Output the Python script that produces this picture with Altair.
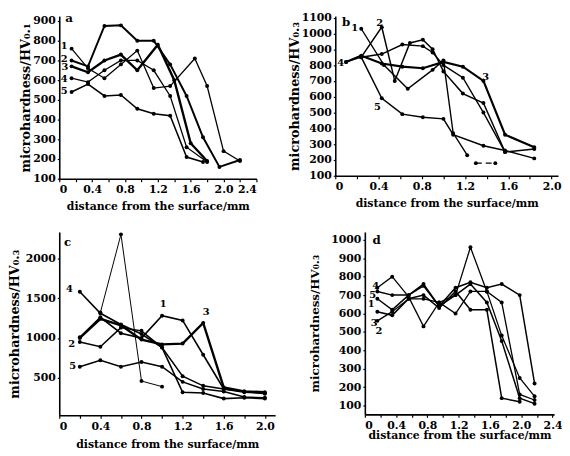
import altair as alt
import pandas as pd

FONT = "DejaVu Serif"

# ---------------- panel a ----------------
A1_X = [0.15, 0.35, 0.55, 0.75, 0.95, 1.15, 1.35, 1.65, 1.8, 2.0, 2.2]
A1_Y = [760, 660, 610, 680, 750, 560, 570, 710, 570, 240, 190]
A2_X = [0.15, 0.35, 0.55, 0.75, 0.95, 1.15, 1.35, 1.55, 1.75, 1.95, 2.2]
A2_Y = [700, 670, 875, 878, 800, 800, 680, 520, 310, 160, 195]
A3_X = [0.15, 0.35, 0.55, 0.75, 0.95, 1.2, 1.4, 1.6, 1.8]
A3_Y = [670, 640, 700, 730, 650, 780, 600, 280, 190]
A4_X = [0.15, 0.35, 0.55, 0.75, 0.95, 1.15, 1.35, 1.55, 1.8]
A4_Y = [610, 590, 650, 700, 700, 650, 520, 260, 185]
A5_X = [0.15, 0.35, 0.55, 0.75, 0.95, 1.15, 1.35, 1.55, 1.75]
A5_Y = [540, 580, 520, 525, 455, 430, 420, 210, 185]
A_LAB_X = [0.06, 0.06, 0.07, 0.06, 0.06]
A_LAB_Y = [775, 705, 665, 605, 545]

# ---------------- panel b ----------------
B1_X = [0.24, 0.45, 0.67, 0.9, 1.0, 1.09, 1.22]
B1_Y = [1030, 800, 650, 770, 830, 370, 230]
B2_X = [0.24, 0.43, 0.55, 0.69, 0.81, 0.9, 1.0, 1.18, 1.37, 1.57, 1.84]
B2_Y = [850, 1040, 700, 940, 960, 900, 760, 620, 560, 250, 270]
B3_X = [0.1, 0.24, 0.43, 0.62, 0.81, 1.0, 1.18, 1.37, 1.57, 1.84]
B3_Y = [820, 860, 810, 790, 780, 820, 790, 700, 360, 280]
B4_X = [0.1, 0.24, 0.43, 0.62, 0.81, 0.9, 1.0, 1.18, 1.37, 1.57]
B4_Y = [820, 850, 870, 930, 920, 880, 800, 720, 500, 250]
B5_X = [0.24, 0.43, 0.62, 0.81, 1.0, 1.09, 1.37, 1.57, 1.84]
B5_Y = [850, 590, 490, 470, 460, 360, 290, 260, 210]
B6_X = [1.3, 1.48]
B6_Y = [180, 180]
B_LAB_X = [0.18, 0.41, 1.39, 0.05, 0.39]
B_LAB_Y = [1037, 1069, 725, 815, 537]

# ---------------- panel c ----------------
C_X = [0.2, 0.4, 0.6, 0.8, 1.0, 1.2, 1.4, 1.6, 1.8, 2.0]
C1_Y = [1010, 1260, 1060, 1000, 1280, 1220, 790, 360, 320, 310]
C2_Y = [950, 890, 1130, 1090, 880, 520, 400, 360, 330, 300]
C3_Y = [1000, 1240, 1160, 980, 920, 930, 1190, 380, 330, 320]
C4_Y = [1580, 1310, 1170, 1050, 880, 320, 310, 240, 250, 240]
C5_Y = [640, 720, 640, 700, 640, 450, 360, 330, 260, 250]
C6_X = [0.4, 0.6, 0.8, 1.0]
C6_Y = [1320, 2300, 460, 390]
C_LAB_X = [1.01, 0.12, 1.43, 0.1, 0.13]
C_LAB_Y = [1430, 930, 1330, 1610, 650]

# ---------------- panel d ----------------
D_X = [0.16, 0.35, 0.56, 0.75, 0.95, 1.16, 1.35, 1.56, 1.75, 1.98, 2.17]
D1_Y = [680, 620, 700, 760, 640, 740, 770, 740, 760, 700, 220]
D2_Y = [560, 610, 680, 680, 660, 600, 720, 720, 660, 160, 130]
D3_Y = [610, 590, 680, 700, 630, 720, 620, 620, 140, 120]
D4_Y = [740, 800, 690, 530, 660, 700, 960, 720, 480, 250, 150]
D5_Y = [720, 700, 700, 750, 640, 700, 760, 660, 450, 140, 110]
D_LAB_X = [0.08, 0.18, 0.12, 0.14, 0.1]
D_LAB_Y = [652, 502, 550, 748, 700]

SERIES_NAMES = ["1", "2", "3", "4", "5"]
X_TITLE = "distance from the surface/mm"
X_TICKS_24 = [0, 0.2, 0.4, 0.6, 0.8, 1.0, 1.2, 1.4, 1.6, 1.8, 2.0, 2.2, 2.4]
X_TICKS_20 = [0, 0.2, 0.4, 0.6, 0.8, 1.0, 1.2, 1.4, 1.6, 1.8, 2.0]

LABEL_EXPR = ("round(datum.value * 10) % 4 == 0 ? "
              "(datum.value == 0 ? '0' : format(datum.value, '.1f')) : ''")


def xaxis(vals, tp):
    return alt.Axis(values=vals, title=X_TITLE, grid=False, labelExpr=LABEL_EXPR,
                    domainColor="black", domainWidth=1.6, tickColor="black",
                    tickSize=3, tickWidth=1.2, labelFont=FONT, labelFontSize=11,
                    labelFontWeight="bold", labelColor="black", labelPadding=2,
                    titleFont=FONT, titleFontSize=11, titleFontWeight="bold",
                    titleColor="black", titlePadding=tp)


def yaxis(vals, title, tp, tfs):
    return alt.Axis(values=vals, title=title, grid=False, format="d",
                    domainColor="black", domainWidth=1.6, tickColor="black",
                    tickSize=2, tickWidth=1.2, labelFont=FONT, labelFontSize=11,
                    labelFontWeight="bold", labelColor="black", labelPadding=2,
                    titleFont=FONT, titleFontSize=tfs, titleFontWeight="bold",
                    titleColor="black", titlePadding=tp)


def panel(series, lab_x, lab_y, letter, letter_xy, xdom, ydom, w, h,
          xvals, yvals, ytitle, ytp, xtp, ytfs=13, dashed=None):
    rows = []
    for name, xs, ys, sw in series:
        for x, y in zip(xs, ys):
            rows.append({"s": name, "x": x, "y": y, "w": sw})
    df = pd.DataFrame(rows)
    X = alt.X("x:Q", scale=alt.Scale(domain=xdom, nice=False, zero=False),
              axis=xaxis(xvals, xtp))
    Y = alt.Y("y:Q", scale=alt.Scale(domain=ydom, nice=False, zero=False),
              axis=yaxis(yvals, ytitle, ytp, ytfs))
    layers = [
        alt.Chart(df).mark_line(color="black").encode(
            x=X, y=Y, detail="s:N",
            strokeWidth=alt.StrokeWidth("w:Q", scale=None)),
        alt.Chart(df).mark_circle(color="black", size=16, opacity=1).encode(x=X, y=Y),
    ]
    if dashed is not None:
        ddf = pd.DataFrame({"x": dashed[0], "y": dashed[1]})
        layers.append(alt.Chart(ddf).mark_line(color="black", strokeWidth=1.4,
                                               strokeDash=[6, 4]).encode(x=X, y=Y))
        layers.append(alt.Chart(ddf).mark_circle(color="black", size=16, opacity=1)
                      .encode(x=X, y=Y))
    ldf = pd.DataFrame({"x": lab_x, "y": lab_y, "t": SERIES_NAMES})
    layers.append(alt.Chart(ldf).mark_text(font=FONT, fontSize=10, fontWeight="bold",
                                           color="black").encode(x=X, y=Y, text="t:N"))
    tdf = pd.DataFrame({"x": [letter_xy[0]], "y": [letter_xy[1]], "t": [letter]})
    layers.append(alt.Chart(tdf).mark_text(font=FONT, fontSize=12, fontWeight="bold",
                                           color="black").encode(x=X, y=Y, text="t:N"))
    return alt.layer(*layers).properties(width=w, height=h)


pa = panel([("1", A1_X, A1_Y, 1.3), ("2", A2_X, A2_Y, 2.0), ("3", A3_X, A3_Y, 2.4),
            ("4", A4_X, A4_Y, 1.3), ("5", A5_X, A5_Y, 1.5)],
           A_LAB_X, A_LAB_Y, "a", (0.12, 915), [0, 2.4], [100, 925], 200, 165,
           X_TICKS_24, list(range(100, 1000, 100)),
           "microhardness/HV₀.₁", 0, 6)

pb = panel([("1", B1_X, B1_Y, 1.4), ("2", B2_X, B2_Y, 1.5), ("3", B3_X, B3_Y, 2.2),
            ("4", B4_X, B4_Y, 1.4), ("5", B5_X, B5_Y, 1.5)],
           B_LAB_X, B_LAB_Y, "b", (0.1, 1075), [0, 2.06], [100, 1110], 226, 162,
           X_TICKS_20, list(range(100, 1200, 100)),
           "microhardness/HV₀.₃", 0, 6, dashed=(B6_X, B6_Y))

pc = panel([("1", C_X, C1_Y, 1.6), ("2", C_X, C2_Y, 1.5), ("3", C_X, C3_Y, 2.4),
            ("4", C_X, C4_Y, 1.6), ("5", C_X, C5_Y, 1.5), ("6", C6_X, C6_Y, 1.0)],
           C_LAB_X, C_LAB_Y, "c", (0.08, 2200), [0, 2.1], [30, 2330], 219, 186,
           X_TICKS_20, [500, 1000, 1500, 2000],
           "microhardness/HV₀.₃", 4, 8)

pd_ = panel([("1", D_X, D1_Y, 1.5), ("2", D_X, D2_Y, 1.3), ("3", D_X[:10], D3_Y, 1.5),
             ("4", D_X, D4_Y, 1.3), ("5", D_X, D5_Y, 1.5)],
            D_LAB_X, D_LAB_Y, "d", (0.15, 1000), [0, 2.42], [52, 1043], 192, 185,
            X_TICKS_24, list(range(100, 1100, 100)),
            "microhardness/HV₀.₃", 9, 0, ytfs=12)

row1 = alt.hconcat(pa, pb, spacing=31)
row2 = alt.hconcat(pc, pd_, spacing=34)
chart = alt.vconcat(row1, row2, spacing=21, padding=0).configure_view(stroke=None)

chart.save("out.html", embed_options={"renderer": "svg", "actions": False})
